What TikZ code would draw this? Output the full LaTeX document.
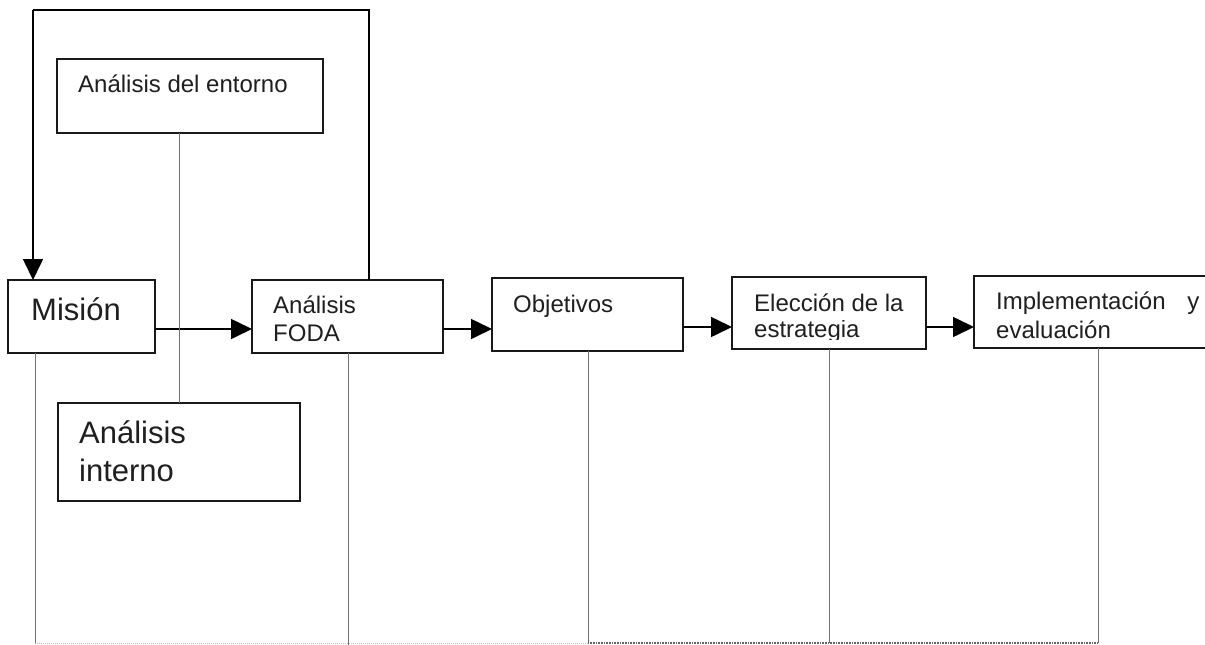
\documentclass[tikz,border=0pt]{standalone}
\usepackage{fontspec}
\setmainfont{Liberation Sans}
\usetikzlibrary{arrows.meta}
\begin{document}
\begin{tikzpicture}[x=1pt,y=-1pt,
  box/.style={draw=black!90, line width=1.6pt, rectangle, inner sep=0pt, outer sep=0pt, anchor=north west},
  lbl/.style={anchor=base west, inner sep=0pt, text=black!88},
  small/.style={font=\fontsize{24pt}{28pt}\selectfont},
  big/.style={font=\fontsize{31pt}{38pt}\selectfont},
  arr/.style={line width=1.6pt, -{Triangle[length=21pt,width=20pt]}},
  fb/.style={line width=1.6pt},
  thinline/.style={draw=black!55, line width=0.9pt},
  dotline/.style={draw=black!60, line width=1.2pt, dash pattern=on 1pt off 0.6pt}]
\clip (0,0) rectangle (1205,645);
\fill[white] (0,0) rectangle (1205,645);
% boxes
\node[box, minimum width=266pt, minimum height=74pt] (entorno) at (57,59) {};
\node[box, minimum width=147pt, minimum height=73pt] (mision) at (8,280) {};
\node[box, minimum width=191pt, minimum height=73pt] (foda) at (252,280) {};
\node[box, minimum width=191pt, minimum height=73pt] (obj) at (492,278) {};
\node[box, minimum width=194pt, minimum height=72pt] (elec) at (732,277) {};
\node[box, minimum width=260pt, minimum height=72pt] (impl) at (974,276) {};
\node[box, minimum width=242pt, minimum height=98pt] (interno) at (58,403) {};
% labels
\node[lbl, small] (tentorno) at (78,92) {Análisis del entorno};
\node[lbl, big] (tmision) at (31,320) {Misión};
\node[lbl, small] (tfoda1) at (273,313) {Análisis};
\node[lbl, small] (tfoda2) at (273,341) {FODA};
\node[lbl, small] (tobj) at (513,312) {Objetivos};
\node[lbl, small] (telec1) at (754,311) {Elección de la};
\begin{scope}
\clip (740,320) rectangle (920,339);
\node[lbl, small] (telec2) at (754,337) {estrategia};
\end{scope}
\node[lbl, small] (timpl1) at (996,309) {Implementación\hspace{15pt} y};
\node[lbl, small] (timpl2) at (996,338) {evaluación};
\node[lbl, big] (tint1) at (79,443) {Análisis};
\node[lbl, big] (tint2) at (79,481) {interno};
% helper coordinates
\coordinate (ya) at (0,329);
\coordinate (yb) at (0,327);
\coordinate (fbR) at (369,10);
\coordinate (fbL) at (33,10);
\coordinate (cx) at (179,0);
\coordinate (b1) at (35,643);
\coordinate (b2) at (348,645);
\coordinate (b3) at (588,643);
\coordinate (b4) at (829,643);
\coordinate (b5) at (1098,643);
% feedback loop
\draw[fb] (foda.north -| fbR) -- (fbR) -- (fbL);
\draw[arr] (fbL) -- (mision.north -| fbL);
% main arrows
\draw[arr] (mision.east |- ya) -- (foda.west |- ya);
\draw[arr] (foda.east |- ya) -- (obj.west |- ya);
\draw[arr] (obj.east |- yb) -- (elec.west |- yb);
\draw[arr] (elec.east |- yb) -- (impl.west |- yb);
% thin gray lines
\draw[thinline] (entorno.south -| cx) -- (interno.north -| cx);
\draw[thinline] (mision.south -| b1) -- (b1);
\draw[thinline] (foda.south -| b2) -- (b2);
\draw[thinline] (obj.south -| b3) -- (b3);
\draw[thinline] (elec.south -| b4) -- (b4);
\draw[thinline] (impl.south -| b5) -- (b5);
\draw[draw=black!25, line width=0.8pt, dash pattern=on 1pt off 1pt] (b1) -- (b3);
\draw[dotline] (b3) -- (b5);
\end{tikzpicture}
\end{document}
